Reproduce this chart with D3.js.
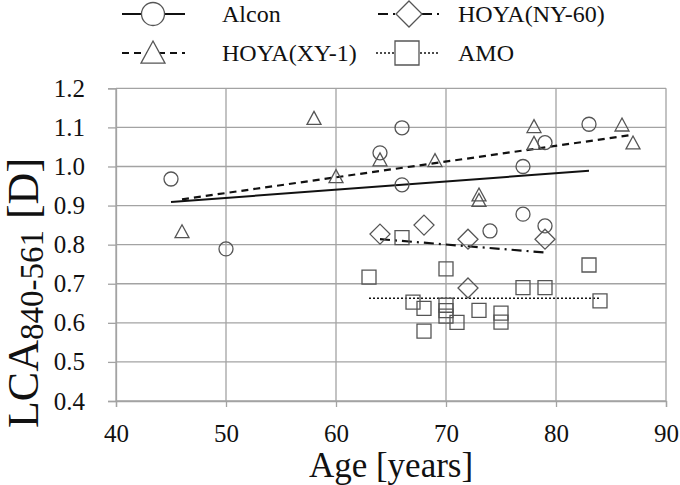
<!DOCTYPE html>
<html>
<head>
<meta charset="utf-8">
<script src="https://cdn.jsdelivr.net/npm/d3@7"></script>
<style>
  body { margin: 0; background: #fff; }
</style>
</head>
<body>
<svg id="chart" width="680" height="485"></svg>
<script>
// ages and LCA values
const alconAge = [45, 50, 64, 66, 66, 74, 77, 77, 79, 79, 83];
const alconLca = [0.968, 0.789, 1.035, 1.099, 0.953, 0.835, 1.0, 0.878, 1.061, 0.848, 1.108];

const xy1Age = [46, 58, 60, 64, 69, 73, 73, 78, 78, 86, 87];
const xy1Lca = [0.833, 1.123, 0.974, 1.017, 1.015, 0.927, 0.913, 1.102, 1.059, 1.106, 1.06];

const ny60Age = [64, 68, 72, 72, 79];
const ny60Lca = [0.827, 0.85, 0.814, 0.689, 0.814];

const amoAge = [63, 66, 67, 68, 68, 70, 70, 70, 70, 71, 73, 75, 75, 77, 79, 83, 84];
const amoLca = [0.717, 0.818, 0.653, 0.637, 0.579, 0.738, 0.645, 0.631, 0.617, 0.601, 0.632, 0.625, 0.602, 0.69, 0.69, 0.748, 0.656];

// trend line end points (age, LCA)
const alconFit = [[45, 0.909], [83, 0.989]];
const xy1Fit = [[46, 0.916], [87, 1.081]];
const ny60Fit = [[64, 0.814], [79, 0.780]];
const amoFit = [[63, 0.663], [84, 0.663]];

const xTicks = [40, 50, 60, 70, 80, 90];
const yTicks = [0.4, 0.5, 0.6, 0.7, 0.8, 0.9, 1.0, 1.1, 1.2];

const series = [
  { name: 'Alcon', ages: alconAge, vals: alconLca, fit: alconFit, shape: 'circle', dash: null, width: 2 },
  { name: 'HOYA(XY-1)', ages: xy1Age, vals: xy1Lca, fit: xy1Fit, shape: 'triangle', dash: '7,5', width: 2.2 },
  { name: 'HOYA(NY-60)', ages: ny60Age, vals: ny60Lca, fit: ny60Fit, shape: 'diamond', dash: '10,5,2,5', width: 2.2 },
  { name: 'AMO', ages: amoAge, vals: amoLca, fit: amoFit, shape: 'square', dash: '2,2', width: 1.6 }
];

const serif = '"Liberation Serif", "DejaVu Serif", serif';
const svg = d3.select('#chart').attr('font-family', serif);
const x = d3.scaleLinear().domain([40, 90]).range([116, 666]);
const y = d3.scaleLinear().domain([0.4, 1.2]).range([401, 88.3]);

const gridColor = '#a3a3a3';
const markColor = '#555';

// marker outline, s = half size
function marker(shape, s) {
  if (shape === 'circle') {
    return `M${-s},0A${s},${s} 0 1,0 ${s},0A${s},${s} 0 1,0 ${-s},0Z`;
  }
  if (shape === 'triangle') {
    return `M0,${-s}L${s},${s * 0.85}L${-s},${s * 0.85}Z`;
  }
  if (shape === 'diamond') {
    return `M0,${-s}L${s},0L0,${s}L${-s},0Z`;
  }
  return `M${-s},${-s}H${s}V${s}H${-s}Z`;
}
const plotSize = { circle: 7, triangle: 7, diamond: 10, square: 7 };
const legendSize = { circle: 11.5, triangle: 12, diamond: 13, square: 12 };

// grid
svg.append('g')
  .selectAll('line').data(xTicks).join('line')
  .attr('x1', (d) => x(d)).attr('x2', (d) => x(d))
  .attr('y1', y(1.2)).attr('y2', y(0.4))
  .attr('stroke', gridColor).attr('stroke-width', 1.3);
svg.append('g')
  .selectAll('line').data(yTicks).join('line')
  .attr('x1', x(40)).attr('x2', x(90))
  .attr('y1', (d) => y(d)).attr('y2', (d) => y(d))
  .attr('stroke', gridColor).attr('stroke-width', 1.3);

// axes
const yAxis = svg.append('g')
  .attr('transform', `translate(${x(40)},0)`)
  .call(d3.axisLeft(y).tickValues(yTicks).tickFormat(d3.format('.1f')).tickSize(8).tickPadding(23));
const xAxis = svg.append('g')
  .attr('transform', `translate(0,${y(0.4)})`)
  .call(d3.axisBottom(x).tickValues(xTicks).tickSize(6).tickPadding(17));
[yAxis, xAxis].forEach((g) => {
  g.attr('font-family', serif).attr('font-size', 25);
  g.selectAll('path.domain').attr('stroke', gridColor).attr('stroke-width', 1.3);
  g.selectAll('.tick line').attr('stroke', gridColor).attr('stroke-width', 1.3);
  g.selectAll('.tick text').attr('fill', '#111');
});

// trend lines
const line = d3.line().x((d) => x(d[0])).y((d) => y(d[1]));
svg.append('g')
  .selectAll('path').data(series).join('path')
  .attr('d', (d) => line(d.fit))
  .attr('fill', 'none')
  .attr('stroke', '#111')
  .attr('stroke-width', (d) => d.width)
  .attr('stroke-dasharray', (d) => d.dash);

// markers
series.forEach((s) => {
  svg.append('g')
    .selectAll('path').data(s.ages.map((a, i) => [a, s.vals[i]])).join('path')
    .attr('transform', (d) => `translate(${x(d[0])},${y(d[1])})`)
    .attr('d', marker(s.shape, plotSize[s.shape]))
    .attr('fill', 'none')
    .attr('stroke', markColor)
    .attr('stroke-width', 1.3);
});

// legend
const legendPos = [
  { lx: 122, ly: 14, tx: 222 },
  { lx: 122, ly: 53, tx: 222 },
  { lx: 378, ly: 14, tx: 458 },
  { lx: 376, ly: 53, tx: 458 }
];
const leg = svg.append('g')
  .selectAll('g').data(series).join('g')
  .attr('transform', (d, i) => `translate(${legendPos[i].lx},${legendPos[i].ly})`);
leg.append('line')
  .attr('x1', 0).attr('x2', 63).attr('y1', 0).attr('y2', 0)
  .attr('stroke', '#111')
  .attr('stroke-width', (d) => d.width)
  .attr('stroke-dasharray', (d) => d.dash);
leg.append('path')
  .attr('transform', 'translate(31,0)')
  .attr('d', (d) => marker(d.shape, legendSize[d.shape]))
  .attr('fill', '#fff')
  .attr('stroke', markColor)
  .attr('stroke-width', 1.3);
leg.append('text')
  .attr('x', (d, i) => legendPos[i].tx - legendPos[i].lx)
  .attr('y', 8)
  .attr('font-size', 24)
  .attr('fill', '#111')
  .text((d) => d.name);

// axis titles
svg.append('text')
  .attr('x', 391).attr('y', 477)
  .attr('text-anchor', 'middle')
  .attr('font-size', 35)
  .attr('fill', '#111')
  .text('Age [years]');

const yTitle = svg.append('text')
  .attr('transform', 'translate(38,293) rotate(-90)')
  .attr('text-anchor', 'middle')
  .attr('font-size', 44)
  .attr('fill', '#111');
yTitle.append('tspan').text('LCA');
yTitle.append('tspan').attr('font-size', 33).attr('dy', 5).text('840-561');
yTitle.append('tspan').attr('dy', -5).text(' [D]');
</script>
</body>
</html>
